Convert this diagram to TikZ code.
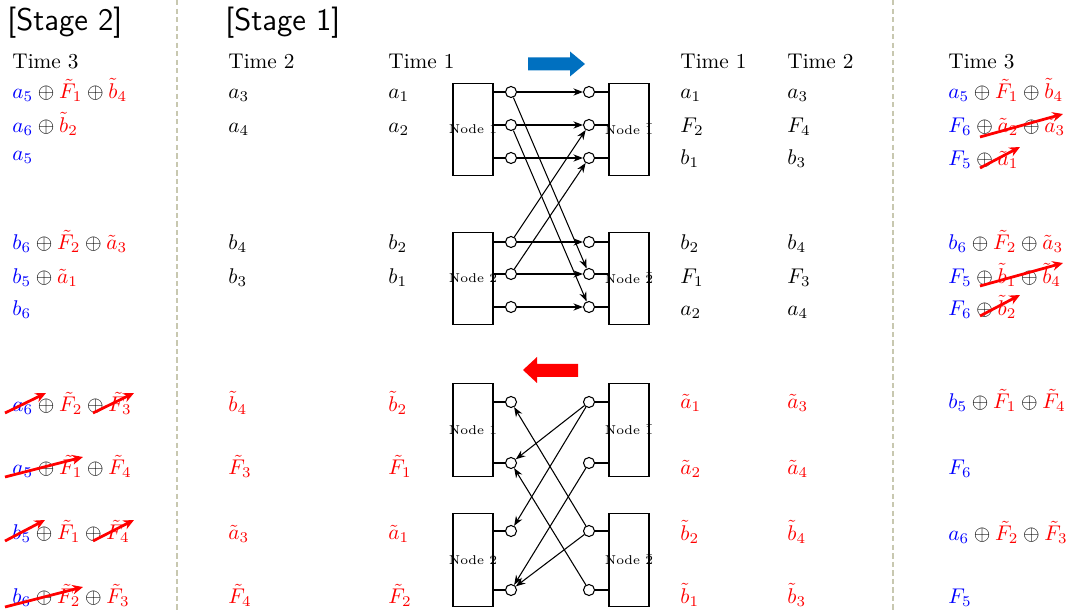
\documentclass[tikz,border=0pt]{standalone}
\usetikzlibrary{arrows.meta}
\definecolor{sepcol}{RGB}{200,200,176}
\definecolor{fwdblue}{RGB}{0,112,192}
\newcommand\myb[1]{\textcolor{blue}{#1}}
\newcommand\myr[1]{\textcolor{red}{#1}}
\begin{document}
\begin{tikzpicture}[x=0.47pt,y=-0.47pt,
  txt/.style={anchor=base west,inner sep=0pt,yshift=-1.2pt},
  stage/.style={anchor=base west,inner sep=0pt,font=\fontsize{14.7}{18}\sffamily},
  box/.style={draw,line width=0.55pt,minimum width=18.8pt,minimum height=43.5pt,
              inner sep=0pt,label={[font=\fontsize{6}{7}\selectfont,inner sep=0pt]center:#1}},
  port/.style={draw,circle,line width=0.5pt,minimum size=5.2pt,inner sep=0pt,fill=white},
  link/.style={line width=0.5pt,-{Stealth[length=4.5pt,width=3.4pt]}},
  stub/.style={line width=0.5pt},
  strike/.style={red,line width=1.3pt,-{Stealth[length=5pt,width=4.5pt]}},
  sepline/.style={sepcol,line width=0.6pt,dash pattern=on 2.5pt off 1.5pt}]
\useasboundingbox (0,0) rectangle (1071,613);

% column separators
\coordinate (s1t) at (177,0);   \coordinate (s1b) at (177,613);
\coordinate (s2t) at (893,0);   \coordinate (s2b) at (893,613);
\draw[sepline] (s1t) -- (s1b);
\draw[sepline] (s2t) -- (s2b);

% stage titles
\node[stage] (st2) at (7,31) {[Stage 2]};
\node[stage] (st1) at (225,31) {[Stage 1]};

% column headings
\node[txt] (h1) at (12,66)  {Time 3};
\node[txt] (h2) at (228,66) {Time 2};
\node[txt] (h3) at (388,66) {Time 1};
\node[txt] (h4) at (680,66) {Time 1};
\node[txt] (h5) at (787,66) {Time 2};
\node[txt] (h6) at (948,66) {Time 3};

% ---------- forward direction (upper half) ----------
\fill[fwdblue] (528,57.5) -- (570,57.5) -- (570,51.5) -- (585,64) -- (570,76.5) -- (570,70.5) -- (528,70.5) -- cycle;

\node[box={Node 1}] (N1) at (473,129.5) {};
\node[box={Node 2}] (N2) at (473,278.5) {};
\node[box={Node $\bar{1}$}] (M1) at (629,129.5) {};
\node[box={Node $\bar{2}$}] (M2) at (629,278.5) {};

\foreach \i/\y in {1/92,2/125,3/158,4/242,5/274,6/307}{
  \node[port] (L\i) at (511,\y) {};
  \node[port] (R\i) at (589,\y) {};
}
\foreach \i in {1,2,3}{
  \draw[stub] (L\i) -- (L\i -| N1.east);
  \draw[stub] (R\i) -- (R\i -| M1.west);
}
\foreach \i in {4,5,6}{
  \draw[stub] (L\i) -- (L\i -| N2.east);
  \draw[stub] (R\i) -- (R\i -| M2.west);
}
\foreach \a/\b in {1/1,2/2,3/3,4/4,5/5,6/6,1/5,2/6,4/2,5/3}{
  \draw[link] (L\a) -- (R\b);
}

% upper text, stage 2
\node[txt] (u1) at (12,96)  {$\myb{a_5}\oplus\myr{\tilde{F}_1}\oplus\myr{\tilde{b}_4}$};
\node[txt] (u2) at (12,130) {$\myb{a_6}\oplus\myr{\tilde{b}_2}$};
\node[txt] (u3) at (12,158) {$\myb{a_5}$};
\node[txt] (u4) at (12,247) {$\myb{b_6}\oplus\myr{\tilde{F}_2}\oplus\myr{\tilde{a}_3}$};
\node[txt] (u5) at (12,281) {$\myb{b_5}\oplus\myr{\tilde{a}_1}$};
\node[txt] (u6) at (12,313) {$\myb{b_6}$};
% upper text, stage 1 inputs
\node[txt] (v1) at (228,96)  {$a_3$};
\node[txt] (v2) at (228,130) {$a_4$};
\node[txt] (v3) at (228,247) {$b_4$};
\node[txt] (v4) at (228,281) {$b_3$};
\node[txt] (w1) at (388,96)  {$a_1$};
\node[txt] (w2) at (388,130) {$a_2$};
\node[txt] (w3) at (388,247) {$b_2$};
\node[txt] (w4) at (388,281) {$b_1$};
% upper text, outputs
\node[txt] (x1) at (680,96)  {$a_1$};
\node[txt] (x2) at (680,130) {$F_2$};
\node[txt] (x3) at (680,162) {$b_1$};
\node[txt] (x4) at (680,247) {$b_2$};
\node[txt] (x5) at (680,281) {$F_1$};
\node[txt] (x6) at (680,313) {$a_2$};
\node[txt] (y1) at (787,96)  {$a_3$};
\node[txt] (y2) at (787,130) {$F_4$};
\node[txt] (y3) at (787,162) {$b_3$};
\node[txt] (y4) at (787,247) {$b_4$};
\node[txt] (y5) at (787,281) {$F_3$};
\node[txt] (y6) at (787,313) {$a_4$};
\node[txt] (z1) at (948,96)  {$\myb{a_5}\oplus\myr{\tilde{F}_1}\oplus\myr{\tilde{b}_4}$};
\node[txt] (z2) at (948,130) {$\myb{F_6}\oplus\myr{\tilde{a}_2}\oplus\myr{\tilde{a}_3}$};
\node[txt] (z3) at (948,163) {$\myb{F_5}\oplus\myr{\tilde{a}_1}$};
\node[txt] (z4) at (948,247) {$\myb{b_6}\oplus\myr{\tilde{F}_2}\oplus\myr{\tilde{a}_3}$};
\node[txt] (z5) at (948,281) {$\myb{F_5}\oplus\myr{\tilde{b}_1}\oplus\myr{\tilde{b}_4}$};
\node[txt] (z6) at (948,313) {$\myb{F_6}\oplus\myr{\tilde{b}_2}$};

% ---------- backward direction (lower half) ----------
\fill[red] (578,364) -- (537,364) -- (537,357) -- (523,370) -- (537,383) -- (537,377) -- (578,377) -- cycle;

\node[box={Node 1}] (B1) at (473,430) {};
\node[box={Node 2}] (B2) at (473,560) {};
\node[box={Node $\bar{1}$}] (C1) at (629,430) {};
\node[box={Node $\bar{2}$}] (C2) at (629,560) {};

\foreach \i/\y in {1/402,2/463,3/531,4/590}{
  \node[port] (P\i) at (511,\y) {};
  \node[port] (Q\i) at (589,\y) {};
}
\foreach \i in {1,2}{
  \draw[stub] (P\i) -- (P\i -| B1.east);
  \draw[stub] (Q\i) -- (Q\i -| C1.west);
}
\foreach \i in {3,4}{
  \draw[stub] (P\i) -- (P\i -| B2.east);
  \draw[stub] (Q\i) -- (Q\i -| C2.west);
}
\foreach \a/\b in {1/2,1/3,2/4,3/1,3/4,4/2}{
  \draw[link] (Q\a) -- (P\b);
}

% lower text, stage 2
\node[txt] (ul1) at (12,409) {$\myb{a_6}\oplus\myr{\tilde{F}_2}\oplus\myr{\tilde{F}_3}$};
\node[txt] (ul2) at (12,472) {$\myb{a_5}\oplus\myr{\tilde{F}_1}\oplus\myr{\tilde{F}_4}$};
\node[txt] (ul3) at (12,537) {$\myb{b_5}\oplus\myr{\tilde{F}_1}\oplus\myr{\tilde{F}_4}$};
\node[txt] (ul4) at (12,601) {$\myb{b_6}\oplus\myr{\tilde{F}_2}\oplus\myr{\tilde{F}_3}$};
% lower text, stage 1 inputs
\node[txt] (vl1) at (228,409) {$\myr{\tilde{b}_4}$};
\node[txt] (vl2) at (228,472) {$\myr{\tilde{F}_3}$};
\node[txt] (vl3) at (228,537) {$\myr{\tilde{a}_3}$};
\node[txt] (vl4) at (228,601) {$\myr{\tilde{F}_4}$};
\node[txt] (wl1) at (388,409) {$\myr{\tilde{b}_2}$};
\node[txt] (wl2) at (388,472) {$\myr{\tilde{F}_1}$};
\node[txt] (wl3) at (388,537) {$\myr{\tilde{a}_1}$};
\node[txt] (wl4) at (388,601) {$\myr{\tilde{F}_2}$};
% lower text, outputs
\node[txt] (xl1) at (680,406) {$\myr{\tilde{a}_1}$};
\node[txt] (xl2) at (680,472) {$\myr{\tilde{a}_2}$};
\node[txt] (xl3) at (680,538) {$\myr{\tilde{b}_2}$};
\node[txt] (xl4) at (680,601) {$\myr{\tilde{b}_1}$};
\node[txt] (yl1) at (787,406) {$\myr{\tilde{a}_3}$};
\node[txt] (yl2) at (787,472) {$\myr{\tilde{a}_4}$};
\node[txt] (yl3) at (787,538) {$\myr{\tilde{b}_4}$};
\node[txt] (yl4) at (787,601) {$\myr{\tilde{b}_3}$};
\node[txt] (zl1) at (948,406) {$\myb{b_5}\oplus\myr{\tilde{F}_1}\oplus\myr{\tilde{F}_4}$};
\node[txt] (zl2) at (948,472) {$\myb{F_6}$};
\node[txt] (zl3) at (948,538) {$\myb{a_6}\oplus\myr{\tilde{F}_2}\oplus\myr{\tilde{F}_3}$};
\node[txt] (zl4) at (948,601) {$\myb{F_5}$};

% cancelled terms
\coordinate (k1a) at (5,413);   \coordinate (k1b) at (46,393);
\coordinate (k2a) at (93,413);  \coordinate (k2b) at (134,393);
\coordinate (k3a) at (5,477);   \coordinate (k3b) at (83,457);
\coordinate (k4a) at (5,541);   \coordinate (k4b) at (45,520);
\coordinate (k5a) at (93,541);  \coordinate (k5b) at (134,520);
\coordinate (k6a) at (5,607);   \coordinate (k6b) at (83,587);
\coordinate (k7a) at (980,137); \coordinate (k7b) at (1063,114);
\coordinate (k8a) at (980,168); \coordinate (k8b) at (1020,147);
\coordinate (k9a) at (980,286); \coordinate (k9b) at (1063,263);
\coordinate (k10a) at (980,316); \coordinate (k10b) at (1020,295);
\foreach \k in {1,...,10}{
  \draw[strike] (k\k a) -- (k\k b);
}
\end{tikzpicture}
\end{document}
